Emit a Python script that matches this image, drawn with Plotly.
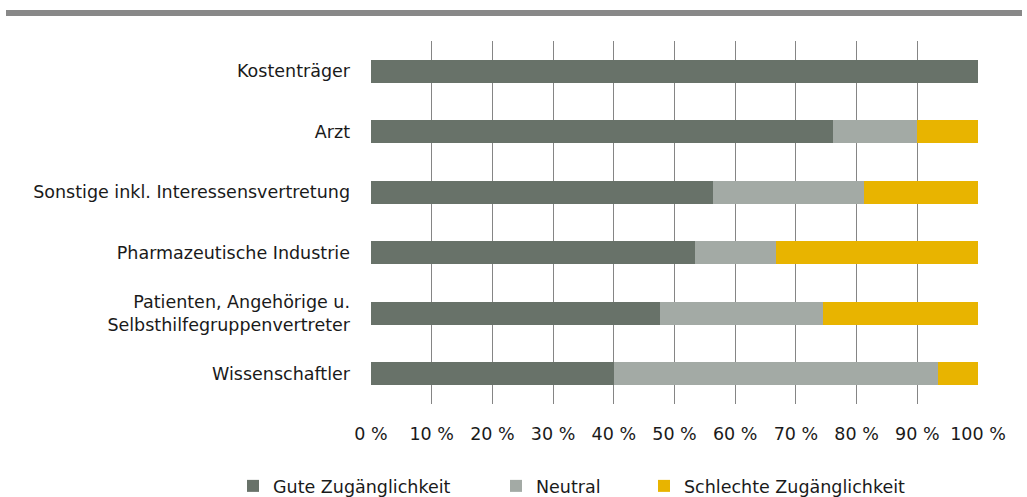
import plotly.graph_objects as go

categories = ["Kostenträger", "Arzt", "Sonstige inkl. Interessensvertretung",
              "Pharmazeutische Industrie", "Patienten, Angehörige u.<br>Selbsthilfegruppenvertreter",
              "Wissenschaftler"]
gute = [100, 76.1, 56.3, 53.3, 47.6, 40.0]
neutral = [0, 13.8, 25.0, 13.4, 26.9, 53.4]
schlecht = [0, 10.1, 18.7, 33.3, 25.5, 6.6]
series_names = ["Gute Zugänglichkeit", "Neutral", "Schlechte Zugänglichkeit"]
colors = ["#687269", "#a3aaa5", "#e8b400"]
tick_vals = [0, 10, 20, 30, 40, 50, 60, 70, 80, 90, 100]
tick_text = ["0 %", "10 %", "20 %", "30 %", "40 %", "50 %", "60 %", "70 %", "80 %", "90 %", "100 %"]

W, H = 1027, 497
FONT = "DejaVu Sans"
FS = 17.5
TXT = "#1a1a1a"

fig = go.Figure()
legend_ids = ["legend", "legend2", "legend3"]
for name, vals, col, lg in zip(series_names, [gute, neutral, schlecht], colors, legend_ids):
    fig.add_trace(go.Bar(
        y=categories, x=vals, name=name, orientation="h",
        marker=dict(color=col, line=dict(width=0)),
        legend=lg, hoverinfo="x+name",
    ))

# plot area in pixels
L, R, T, B = 371, 978, 41, 404
leg_x = [247, 510, 658]

def legend_cfg(px):
    return dict(
        orientation="h", xref="container", yref="container",
        x=(px - 14) / W, y=1 - 468 / H, xanchor="left", yanchor="top",
        font=dict(family=FONT, size=FS, color=TXT),
        bgcolor="rgba(0,0,0,0)", borderwidth=0, itemclick=False,
    )

fig.update_layout(
    width=W, height=H,
    barmode="stack", bargap=0.614,
    paper_bgcolor="white", plot_bgcolor="white",
    margin=dict(l=L, r=W - R, t=T, b=H - B),
    font=dict(family=FONT, size=FS, color=TXT),
    showlegend=True,
    legend=legend_cfg(leg_x[0]),
    legend2=legend_cfg(leg_x[1]),
    legend3=legend_cfg(leg_x[2]),
    xaxis=dict(
        range=[0, 100], tickvals=tick_vals, ticktext=tick_text,
        showgrid=True, gridcolor="#858585", gridwidth=1.4,
        zeroline=False, showline=False, ticks="",
        tickfont=dict(family=FONT, size=FS, color=TXT),
        ticklabelstandoff=17, fixedrange=True,
    ),
    yaxis=dict(
        autorange="reversed", showgrid=False, zeroline=False, showline=False,
        ticks="", tickfont=dict(family=FONT, size=FS, color=TXT),
        ticklabelstandoff=20, fixedrange=True,
    ),
    shapes=[dict(
        type="rect", xref="paper", yref="paper",
        x0=(6 - L) / (R - L), x1=(1022 - L) / (R - L),
        y0=1 + (T - 16) / (B - T), y1=1 + (T - 10) / (B - T),
        fillcolor="#888888", line=dict(width=0), layer="above",
    )],
)

fig.write_html("out.html", config={"displayModeBar": False},
               post_script="document.body.style.margin='0';")
